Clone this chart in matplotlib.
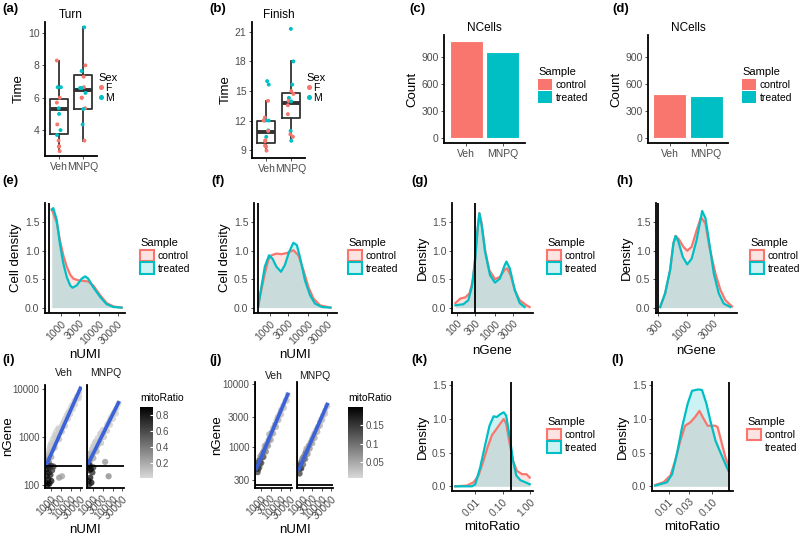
import numpy as np
import matplotlib
matplotlib.use("Agg")
import matplotlib.pyplot as plt
from matplotlib.patches import Patch
from matplotlib.lines import Line2D
from matplotlib.colors import LinearSegmentedColormap, Normalize, to_rgba
from matplotlib.cm import ScalarMappable

plt.rcParams["font.family"] = ["Liberation Sans", "DejaVu Sans"]

RED = "#F8766D"
CYAN = "#00BFC4"
BLUE = "#3B62D6"
TXT = "#4D4D4D"
W, H = 800, 538

groups = ["Veh", "MNPQ"]

# ---- (a) Turn / (b) Finish: per-animal times, sex, and box stats (lo, q1, med, q3, hi)
turn_veh = [8.3, 6.65, 6.65, 6.0, 5.7, 5.35, 5.0, 4.35, 4.0, 3.7, 3.35, 3.0, 2.98, 2.7]
turn_veh_sex = ["F", "M", "M", "F", "F", "M", "M", "F", "M", "M", "F", "F", "F", "F"]
turn_mnpq = [10.35, 8.0, 7.65, 7.3, 6.65, 6.6, 6.6, 6.3, 6.0, 6.0, 5.35, 5.3, 4.35, 3.35]
turn_mnpq_sex = ["M", "F", "M", "F", "F", "M", "M", "M", "F", "F", "F", "M", "M", "F"]
turn_box = [(2.7, 3.75, 5.3, 5.95, 8.3), (3.3, 5.3, 6.5, 7.4, 10.35)]

finish_veh = [16.0, 15.65, 14.0, 12.3, 12.0, 12.0, 12.0, 11.0, 10.95, 10.35, 10.0, 9.9, 9.45, 9.35, 8.95]
finish_veh_sex = ["M", "M", "F", "F", "M", "M", "F", "M", "F", "M", "F", "F", "F", "F", "F"]
finish_mnpq = [21.3, 18.0, 15.65, 15.0, 14.7, 14.3, 14.0, 13.95, 13.55, 12.65, 10.95, 10.6, 10.35, 9.95]
finish_mnpq_sex = ["M", "M", "M", "F", "F", "M", "F", "M", "F", "F", "M", "F", "F", "M"]
finish_box = [(9.0, 9.75, 10.8, 12.0, 14.0), (10.0, 12.3, 13.8, 14.8, 18.0)]

# ---- (c)/(d) number of cells before / after filtering
ncells_raw = [1070, 950]
ncells_filt = [485, 462]

# ---- density curves (x in log10 units, y = density)
e_ctrl_x = [2.76, 2.89, 2.97, 3.06, 3.15, 3.24, 3.32, 3.45, 3.58, 3.71, 3.84, 4.02, 4.19, 4.37, 4.58]
e_ctrl_y = [1.73, 1.49, 1.19, 0.92, 0.72, 0.58, 0.51, 0.48, 0.47, 0.46, 0.39, 0.22, 0.08, 0.02, 0.0]
e_trt_x = [2.76, 2.80, 2.89, 2.97, 3.06, 3.15, 3.24, 3.30, 3.41, 3.54, 3.63, 3.71, 3.84, 4.02, 4.19, 4.37, 4.58]
e_trt_y = [1.72, 1.75, 1.54, 1.13, 0.78, 0.54, 0.39, 0.35, 0.39, 0.51, 0.55, 0.51, 0.36, 0.19, 0.06, 0.01, 0.0]

f_ctrl_x = [2.70, 2.78, 2.87, 2.96, 3.04, 3.17, 3.30, 3.44, 3.61, 3.74, 3.87, 4.00, 4.13, 4.30, 4.57]
f_ctrl_y = [0.04, 0.31, 0.60, 0.84, 0.92, 0.95, 0.94, 0.96, 1.01, 0.92, 0.66, 0.36, 0.16, 0.04, 0.0]
f_trt_x = [2.70, 2.78, 2.87, 2.98, 3.07, 3.17, 3.29, 3.39, 3.50, 3.61, 3.70, 3.78, 3.91, 4.04, 4.17, 4.35, 4.57]
f_trt_y = [0.02, 0.36, 0.72, 0.92, 0.86, 0.72, 0.63, 0.75, 0.98, 1.14, 1.10, 0.89, 0.48, 0.22, 0.07, 0.01, 0.0]

g_ctrl_x = [1.96, 2.09, 2.22, 2.33, 2.42, 2.48, 2.54, 2.59, 2.65, 2.74, 2.85, 3.00, 3.13, 3.26, 3.32, 3.41,
            3.52, 3.65, 3.83, 3.91]
g_ctrl_y = [0.08, 0.16, 0.18, 0.25, 0.48, 0.89, 1.36, 1.66, 1.48, 1.01, 0.66, 0.50, 0.54, 0.67, 0.69, 0.57,
            0.31, 0.13, 0.04, 0.01]
g_trt_x = [1.96, 2.17, 2.30, 2.39, 2.48, 2.54, 2.59, 2.65, 2.74, 2.87, 3.00, 3.13, 3.24, 3.30, 3.39, 3.52,
           3.65, 3.78]
g_trt_y = [0.04, 0.06, 0.13, 0.36, 0.84, 1.36, 1.66, 1.45, 0.98, 0.57, 0.44, 0.51, 0.72, 0.81, 0.69, 0.31,
           0.08, 0.01]

h_ctrl_x = [2.51, 2.60, 2.69, 2.75, 2.79, 2.85, 2.93, 3.00, 3.08, 3.17, 3.25, 3.33, 3.40, 3.51, 3.60, 3.69, 3.81]
h_ctrl_y = [0.01, 0.25, 0.66, 1.13, 1.26, 1.20, 1.07, 1.00, 1.07, 1.36, 1.59, 1.48, 1.07, 0.60, 0.31, 0.13, 0.02]
h_trt_x = [2.51, 2.60, 2.69, 2.75, 2.79, 2.84, 2.92, 3.00, 3.08, 3.17, 3.27, 3.33, 3.39, 3.48, 3.57, 3.66, 3.78]
h_trt_y = [0.01, 0.25, 0.66, 1.13, 1.26, 1.16, 0.89, 0.76, 0.86, 1.19, 1.70, 1.57, 1.19, 0.60, 0.25, 0.07, 0.01]

k_ctrl_x = [-2.73, -2.31, -2.06, -1.88, -1.70, -1.55, -1.39, -1.21, -1.09, -0.96, -0.87, -0.74, -0.62,
            -0.48, -0.29, -0.13, -0.01]
k_ctrl_y = [0.0, 0.01, 0.06, 0.16, 0.38, 0.58, 0.76, 0.86, 0.93, 1.00, 0.93, 0.63, 0.38, 0.23, 0.18, 0.18, 0.13]
k_trt_x = [-2.73, -2.12, -2.0, -1.82, -1.63, -1.48, -1.33, -1.21, -1.09, -0.96, -0.87, -0.74, -0.62,
           -0.50, -0.35, -0.17, -0.01]
k_trt_y = [0.0, 0.0, 0.03, 0.28, 0.63, 0.90, 1.04, 1.03, 1.07, 1.10, 1.05, 0.73, 0.38, 0.16, 0.09, 0.06, 0.03]

l_ctrl_x = [-2.31, -2.12, -1.96, -1.85, -1.73, -1.62, -1.50, -1.39, -1.29, -1.19, -1.10, -1.02, -0.92,
            -0.87, -0.79, -0.69, -0.62]
l_ctrl_y = [0.02, 0.06, 0.16, 0.38, 0.68, 0.90, 0.95, 1.03, 1.12, 1.00, 0.90, 0.90, 0.90, 0.88, 0.68, 0.43, 0.31]
l_trt_x = [-2.31, -2.04, -1.92, -1.81, -1.69, -1.56, -1.46, -1.31, -1.23, -1.13, -1.04, -0.92, -0.81,
           -0.69, -0.62]
l_trt_y = [0.01, 0.06, 0.18, 0.48, 0.88, 1.23, 1.42, 1.44, 1.43, 1.23, 0.98, 0.68, 0.51, 0.33, 0.23]

# ---- (i)/(j) nUMI vs nGene per cell, coloured by mitoRatio
i_veh_umi = [650, 700, 750, 800, 900, 1000, 1100, 1200, 1400, 1600, 1800, 2000, 2300, 2600, 3000, 3500, 4000,
             4500, 5000, 6000, 7000, 8000, 10000, 12000, 15000, 20000, 26000, 1500, 2500, 900, 2500, 3500,
             18000, 700, 800, 900, 1000, 1200, 1500, 1800, 2200, 700, 1000, 1500, 2500, 3500, 5000, 7000,
             9000, 12000, 16000, 25000, 30000,
             560, 600, 620, 680, 700, 750, 800, 850, 900, 1000, 1100, 1300, 580, 650, 950]
i_veh_gene = [330, 380, 300, 420, 460, 520, 600, 560, 720, 800, 900, 1050, 1150, 1300, 1500, 1700, 1950,
              2100, 2400, 2800, 3100, 3500, 4200, 4800, 5800, 7000, 7600, 1000, 1500, 650, 140, 150,
              6000, 450, 550, 650, 750, 900, 1100, 1300, 1500, 300, 380, 600, 900, 1300, 1700, 2400,
              3000, 3800, 4800, 6500, 9000,
              110, 150, 210, 240, 130, 180, 105, 230, 160, 120, 200, 240, 260, 100, 250]
i_veh_mito = [0.30, 0.25, 0.35, 0.20, 0.15, 0.18, 0.12, 0.20, 0.10, 0.12, 0.08, 0.10, 0.07, 0.09, 0.06, 0.08,
              0.05, 0.07, 0.05, 0.06, 0.04, 0.05, 0.04, 0.05, 0.03, 0.04, 0.03, 0.05, 0.05, 0.04, 0.30, 0.25,
              0.005, 0.10, 0.08, 0.06, 0.07, 0.05, 0.06, 0.05, 0.04, 0.30, 0.22, 0.15, 0.12, 0.10, 0.08, 0.07,
              0.06, 0.05, 0.04, 0.04, 0.03,
              0.90, 0.85, 0.80, 0.88, 0.82, 0.90, 0.86, 0.75, 0.80, 0.85, 0.70, 0.65, 0.80, 0.90, 0.72]
i_mnpq_umi = [650, 700, 800, 900, 1000, 1200, 1400, 1600, 1800, 2000, 2500, 3000, 3500, 4000, 5000, 6000,
              7000, 8000, 10000, 12000, 15000, 19000, 1200, 2500, 1000, 700, 4000, 6000,
              700, 850, 1000, 1300, 1700, 2200, 3000, 650, 1000, 1500, 2500, 3500, 5000, 7000, 10000, 14000,
              560, 600, 650, 700, 800, 900, 1000, 750, 600]
i_mnpq_gene = [320, 360, 400, 430, 470, 520, 600, 650, 760, 820, 950, 1150, 1300, 1450, 1800, 2000,
               2300, 2600, 3000, 3400, 4000, 5000, 750, 1200, 600, 450, 300, 150,
               450, 550, 650, 800, 950, 1150, 1400, 280, 360, 500, 750, 1000, 1350, 1800, 2400, 3100,
               120, 200, 250, 140, 110, 180, 230, 210, 100]
i_mnpq_mito = [0.30, 0.22, 0.20, 0.15, 0.15, 0.12, 0.10, 0.12, 0.08, 0.09, 0.07, 0.08, 0.06, 0.07, 0.05, 0.06,
               0.05, 0.04, 0.05, 0.04, 0.04, 0.03, 0.05, 0.04, 0.05, 0.30, 0.30, 0.35,
               0.10, 0.08, 0.07, 0.06, 0.05, 0.05, 0.04, 0.30, 0.22, 0.14, 0.10, 0.08, 0.07, 0.06, 0.05, 0.04,
               0.85, 0.80, 0.90, 0.85, 0.90, 0.75, 0.70, 0.88, 0.80]
i_fit = {"Veh": (0.93, -0.142), "MNPQ": (0.83, 0.166)}  # log10(nGene) = a*log10(nUMI) + b

j_veh_umi = [560, 600, 650, 700, 750, 800, 900, 1000, 1100, 1300, 1500, 1700, 2000, 2400, 2800, 3300, 4000,
             5000, 6000, 7000, 8500, 10000, 13000, 17000, 22000, 700, 1200, 900,
             650, 800, 1000, 1300, 1700, 2200, 3000, 4000, 5500, 7500, 10000, 14000, 20000, 900, 1500, 2500]
j_veh_gene = [460, 500, 480, 560, 520, 620, 640, 700, 780, 850, 950, 1050, 1150, 1300, 1500, 1700, 2000,
              2300, 2700, 3000, 3400, 3900, 4600, 5500, 6800, 450, 700, 560,
              400, 480, 560, 700, 850, 1050, 1300, 1650, 2100, 2700, 3300, 4200, 5500, 720, 1050, 1600]
j_veh_mito = [0.18, 0.15, 0.19, 0.16, 0.12, 0.14, 0.10, 0.12, 0.08, 0.10, 0.07, 0.09, 0.06, 0.08, 0.05, 0.06,
              0.04, 0.05, 0.03, 0.04, 0.03, 0.04, 0.02, 0.03, 0.008, 0.20, 0.17, 0.18,
              0.15, 0.13, 0.12, 0.10, 0.09, 0.07, 0.06, 0.05, 0.05, 0.04, 0.03, 0.03, 0.02, 0.06, 0.05, 0.04]
j_mnpq_umi = [600, 650, 700, 800, 900, 1000, 1200, 1400, 1600, 2000, 2500, 3000, 3500, 4000, 5000, 6000,
              7500, 9000, 11000, 14000, 18000, 750, 1100,
              650, 800, 1000, 1300, 1700, 2200, 3000, 4000, 5500, 7500, 10000, 14000, 900, 1500]
j_mnpq_gene = [470, 500, 520, 580, 620, 680, 760, 840, 900, 1050, 1200, 1350, 1500, 1650, 1900, 2100,
               2500, 2800, 3200, 3800, 4500, 460, 650,
               380, 460, 530, 650, 780, 950, 1150, 1400, 1750, 2200, 2700, 3400, 650, 950]
j_mnpq_mito = [0.16, 0.18, 0.14, 0.12, 0.10, 0.12, 0.08, 0.10, 0.07, 0.08, 0.06, 0.07, 0.05, 0.06, 0.04, 0.05,
               0.03, 0.04, 0.03, 0.02, 0.03, 0.19, 0.17,
               0.15, 0.13, 0.11, 0.09, 0.08, 0.07, 0.06, 0.05, 0.04, 0.04, 0.03, 0.03, 0.06, 0.05]
j_fit = {"Veh": (0.74, 0.625), "MNPQ": (0.70, 0.70)}

umi_ticks = [1000, 3000, 10000, 30000]
umi_labels = ["1000", "3000", "10000", "30000"]

fig = plt.figure(figsize=(W / 100, H / 100), dpi=100)


def add_ax(l, t, r, b):
    return fig.add_axes([l / W, 1 - b / H, (r - l) / W, (b - t) / H])


def classic(ax):
    ax.spines["top"].set_visible(False)
    ax.spines["right"].set_visible(False)
    for s in ("left", "bottom"):
        ax.spines[s].set_linewidth(1.3)
    ax.tick_params(length=2.5, width=0.6, color="#333333", labelsize=7.5, labelcolor=TXT, pad=1.5)
    ax.minorticks_off()


def panel_label(x, y, s):
    fig.text(x / W, 1 - y / H, s, fontsize=9.5, fontweight="bold", va="center", ha="left")


def rot_xticks(ax, ticks, labels, size=7.5):
    ax.set_xticks(ticks, labels, rotation=45, ha="right", rotation_mode="anchor", fontsize=size)
    ax.minorticks_off()


def sample_legend(x, y, handles, labels):
    leg = fig.legend(handles, labels, title="Sample", loc="upper left", bbox_to_anchor=(x / W, 1 - y / H),
                     frameon=False, fontsize=7.5, title_fontsize=8, handlelength=1.3, handleheight=1.3,
                     handletextpad=0.4, labelspacing=0.15, borderaxespad=0, borderpad=0)
    leg._legend_box.align = "left"


def box_panel(ax, title, stats, veh, veh_sex, mnpq, mnpq_sex, yticks, ylim, seed):
    bstats = [dict(whislo=s[0], q1=s[1], med=s[2], q3=s[3], whishi=s[4], fliers=[]) for s in stats]
    ax.bxp(bstats, positions=[1, 2], widths=0.75, showcaps=False, showfliers=False,
           boxprops=dict(color="#333333", lw=1.3), whiskerprops=dict(color="#333333", lw=1.3),
           medianprops=dict(color="#333333", lw=2.8))
    rng = np.random.default_rng(seed)  # horizontal jitter only
    for pos, vals, sexes in ((1, veh, veh_sex), (2, mnpq, mnpq_sex)):
        xs = pos + rng.uniform(-0.12, 0.12, len(vals))
        cols = [RED if s == "F" else CYAN for s in sexes]
        ax.scatter(xs, vals, s=8, c=cols, lw=0, zorder=3)
    ax.set_xlim(0.4, 2.6)
    ax.set_ylim(ylim)
    ax.set_yticks(yticks)
    ax.set_xticks([1, 2], groups)
    ax.set_title(title, fontsize=8.5, pad=3)
    ax.set_ylabel("Time", fontsize=9.5, labelpad=2)
    classic(ax)


def sex_legend(x, y):
    hs = [Line2D([], [], marker="o", ls="", color=c, markersize=2.6) for c in (RED, CYAN)]
    leg = fig.legend(hs, ["F", "M"], title="Sex", loc="upper left", bbox_to_anchor=(x / W, 1 - y / H),
                     frameon=False, fontsize=7.5, title_fontsize=8, handlelength=0.5, handletextpad=0.2,
                     labelspacing=0.0, borderaxespad=0, borderpad=0)
    leg._legend_box.align = "left"


def bar_panel(ax, vals):
    ax.bar([1, 2], vals, width=0.9, color=[RED, CYAN], edgecolor="white", lw=0.8)
    ax.set_xlim(0.4, 2.6)
    ax.set_ylim(-55, 1140)
    ax.set_yticks([0, 300, 600, 900])
    ax.set_xticks([1, 2], groups)
    ax.set_title("NCells", fontsize=8.5, pad=3)
    ax.set_ylabel("Count", fontsize=9.5, labelpad=2)
    classic(ax)


def dens_panel(ax, cx, cy, tx, ty, vline, xlim, ticks, labels, ylabel, xlabel, ylim=(-0.095, 1.84)):
    for xs, ys, col in ((cx, cy, RED), (tx, ty, CYAN)):
        xv = 10 ** np.asarray(xs)
        ax.fill_between(xv, ys, 0, color=col, alpha=0.2, lw=0)
        ax.plot(xv, ys, color=col, lw=1.6, solid_joinstyle="round")
    ax.axvline(vline, color="black", lw=1.3)
    ax.set_xscale("log")
    ax.set_xlim(10 ** xlim[0], 10 ** xlim[1])
    ax.set_ylim(ylim)
    ax.set_yticks([0, 0.5, 1.0, 1.5], ["0.0", "0.5", "1.0", "1.5"])
    rot_xticks(ax, ticks, labels)
    ax.set_ylabel(ylabel, fontsize=9.5, labelpad=2)
    ax.set_xlabel(xlabel, fontsize=9.5, labelpad=2)
    classic(ax)


gray_cmap = LinearSegmentedColormap.from_list("mito", ["#D8D8D8", "#000000"])


def scatter_panel(boxes, data, fit, ylim, yticks, cbar_box, cticks, strip_y, xlabel_pos, ylabel_x):
    allm = np.concatenate([data[g][2] for g in groups])
    norm = Normalize(vmin=allm.min(), vmax=allm.max())
    for k, (box, name) in enumerate(zip(boxes, groups)):
        ax = add_ax(*box)
        u, gn, m = data[name]
        ax.scatter(u, gn, c=m, cmap=gray_cmap, norm=norm, s=20, lw=0, alpha=0.75)
        a, b = fit[name]
        lx = np.array([min(u), max(u)])
        ax.plot(lx, 10 ** (a * np.log10(lx) + b), color=BLUE, lw=2.6)
        ax.axvline(500, color="black", lw=1.3)
        ax.axhline(250, color="black", lw=1.3)
        ax.set_xscale("log")
        ax.set_yscale("log")
        ax.set_xlim(10 ** 2.68, 10 ** 4.56)
        ax.set_ylim(10 ** ylim[0], 10 ** ylim[1])
        rot_xticks(ax, umi_ticks, umi_labels, size=6.5)
        if k == 0:
            ax.set_yticks(yticks, [str(t) for t in yticks])
        else:
            ax.set_yticks([])
        classic(ax)
        ax.tick_params(axis="y", labelsize=7)
        fig.text((box[0] + box[2]) / 2 / W, 1 - strip_y / H, name, fontsize=7.5, ha="center", va="center",
                 color="#1A1A1A")
    fig.text(ylabel_x / W, 1 - (boxes[0][1] + boxes[0][3]) / 2 / H, "nGene", fontsize=9.5, rotation=90,
             ha="center", va="center")
    fig.text(xlabel_pos[0] / W, 1 - xlabel_pos[1] / H, "nUMI", fontsize=9.5, ha="center", va="center")
    cax = add_ax(*cbar_box)
    cb = fig.colorbar(ScalarMappable(norm=norm, cmap=gray_cmap), cax=cax)
    cb.set_ticks(cticks)
    cb.set_ticklabels([f"{t:g}" for t in cticks])
    cb.outline.set_visible(False)
    cax.tick_params(labelsize=7, length=2.5, width=0.8, color="white", direction="in", labelcolor=TXT, pad=2)
    fig.text(cbar_box[0] / W, 1 - (cbar_box[1] - 9) / H, "mitoRatio", fontsize=7.5, ha="left", va="center")


# ---- row 1
ax = add_ax(45, 22, 97, 156)
box_panel(ax, "Turn", turn_box, turn_veh, turn_veh_sex, turn_mnpq, turn_mnpq_sex, [4, 6, 8, 10],
          (2.4, 10.68), 3)
sex_legend(98, 73)
panel_label(2, 9, "(a)")

ax = add_ax(252, 22, 305, 158)
box_panel(ax, "Finish", finish_box, finish_veh, finish_veh_sex, finish_mnpq, finish_mnpq_sex,
          [9, 12, 15, 18, 21], (8.2, 22.0), 7)
sex_legend(306, 73)
panel_label(209, 9, "(b)")

bar_keys = [Patch(facecolor=RED), Patch(facecolor=CYAN)]
ax = add_ax(444, 35, 525, 143)
bar_panel(ax, ncells_raw)
sample_legend(538, 67, bar_keys, ["control", "treated"])
panel_label(409, 9, "(c)")

ax = add_ax(648, 35, 728, 143)
bar_panel(ax, ncells_filt)
sample_legend(742, 67, bar_keys, ["control", "treated"])
panel_label(612, 9, "(d)")

# ---- row 2
dens_keys = [Patch(facecolor=to_rgba(RED, 0.2), edgecolor=RED, lw=1.5),
             Patch(facecolor=to_rgba(CYAN, 0.2), edgecolor=CYAN, lw=1.5)]
ax = add_ax(45, 203, 125, 313)
dens_panel(ax, e_ctrl_x, e_ctrl_y, e_trt_x, e_trt_y, 500, (2.583, 4.67), umi_ticks, umi_labels,
           "Cell density", "nUMI")
sample_legend(140, 238, dens_keys, ["control", "treated"])
panel_label(2, 181, "(e)")

ax = add_ax(254, 203, 337, 313)
dens_panel(ax, f_ctrl_x, f_ctrl_y, f_trt_x, f_trt_y, 500, (2.59, 4.74), umi_ticks, umi_labels,
           "Cell density", "nUMI")
sample_legend(348, 238, dens_keys, ["control", "treated"])
panel_label(211, 181, "(f)")

ax = add_ax(452, 203, 533, 313)
dens_panel(ax, g_ctrl_x, g_ctrl_y, g_trt_x, g_trt_y, 300, (1.87, 4.0), [100, 300, 1000, 3000],
           ["100", "300", "1000", "3000"], "Density", "nGene")
sample_legend(547, 238, dens_keys, ["control", "treated"])
panel_label(411, 181, "(g)")

ax = add_ax(656, 203, 737, 313)
dens_panel(ax, h_ctrl_x, h_ctrl_y, h_trt_x, h_trt_y, 300, (2.435, 3.9), [300, 1000, 3000],
           ["300", "1000", "3000"], "Density", "nGene")
sample_legend(750, 238, dens_keys, ["control", "treated"])
panel_label(616, 181, "(h)")

# ---- row 3
scatter_panel([(45, 385, 82, 488), (87, 385, 124, 488)],
              {"Veh": (np.array(i_veh_umi), np.array(i_veh_gene), np.array(i_veh_mito)),
               "MNPQ": (np.array(i_mnpq_umi), np.array(i_mnpq_gene), np.array(i_mnpq_mito))},
              i_fit, (1.93, 4.09), [100, 1000, 10000], (140, 407, 153, 478), [0.2, 0.4, 0.6, 0.8],
              373, (85, 530), 8)
panel_label(2, 360, "(i)")

scatter_panel([(255, 382, 292, 488), (297, 382, 333, 488)],
              {"Veh": (np.array(j_veh_umi), np.array(j_veh_gene), np.array(j_veh_mito)),
               "MNPQ": (np.array(j_mnpq_umi), np.array(j_mnpq_gene), np.array(j_mnpq_mito))},
              j_fit, (2.35, 4.036), [300, 1000, 3000, 10000], (348, 407, 363, 478), [0.05, 0.10, 0.15],
              376, (295, 530), 217)
panel_label(209, 360, "(j)")

ax = add_ax(452, 382, 533, 491)
dens_panel(ax, k_ctrl_x, k_ctrl_y, k_trt_x, k_trt_y, 0.2, (-2.85, 0.11), [0.01, 0.1, 1.0],
           ["0.01", "0.10", "1.00"], "Density", "mitoRatio", ylim=(-0.07, 1.55))
sample_legend(547, 417, dens_keys, ["control", "treated"])
panel_label(411, 360, "(k)")

ax = add_ax(652, 382, 733, 491)
dens_panel(ax, l_ctrl_x, l_ctrl_y, l_trt_x, l_trt_y, 10 ** -0.615, (-2.385, -0.515), [0.01, 0.03, 0.1],
           ["0.01", "0.03", "0.10"], "Density", "mitoRatio", ylim=(-0.07, 1.55))
sample_legend(747, 417, [dens_keys[0], Patch(facecolor="none", edgecolor="none")], ["control", "treated"])
panel_label(611, 360, "(l)")

fig.savefig("out.png", dpi=100)
